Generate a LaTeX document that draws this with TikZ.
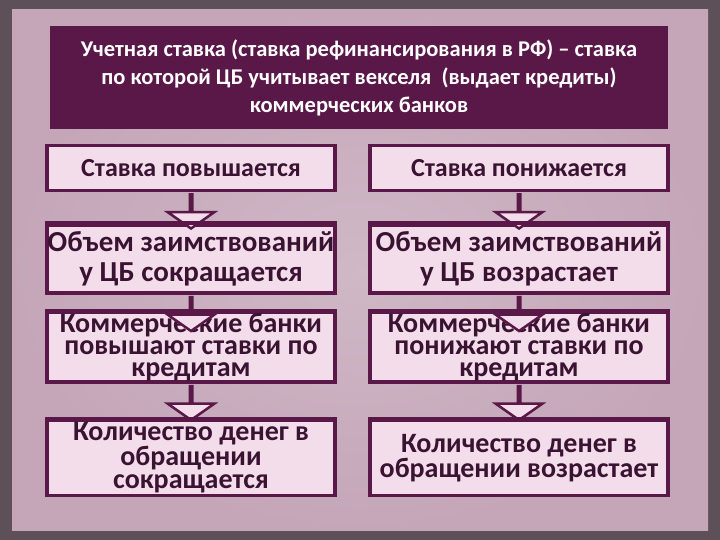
\documentclass[tikz,border=0pt]{standalone}
\usepackage{fontspec}
\setmainfont{Carlito}
\usetikzlibrary{shapes.arrows}
\definecolor{bgc}{HTML}{C4A6B8}
\definecolor{edge}{HTML}{5E5058}
\definecolor{plum}{HTML}{5A1848}
\definecolor{boxf}{HTML}{F3DDEA}
\definecolor{txt}{HTML}{3A1232}
\begin{document}
\begin{tikzpicture}[x=1pt,y=-1pt,
  box/.style={draw=plum,line width=3.5pt,fill=boxf,text=txt,align=center,inner sep=0pt},
  fz/.style={font=\fontsize{26}{29}\selectfont\bfseries},
  fa/.style={font=\fontsize{29}{30}\selectfont\bfseries},
  fb/.style={font=\fontsize{28}{22}\selectfont\bfseries},
  fc/.style={font=\fontsize{28}{23}\selectfont\bfseries},
  darr/.style={single arrow,shape border rotate=270,draw=plum,line width=2.5pt,fill=boxf,minimum width=34pt,single arrow head extend=22pt,single arrow tip angle=110,minimum height=34pt,inner sep=0pt}]
\useasboundingbox (0,0) rectangle (720,540);
\fill[edge] (0,0) rectangle (720,540);
\shade[inner color=bgc!80!white,outer color=bgc] (12,10) rectangle (708,530);
\node[fill=plum,text=white,minimum width=618pt,minimum height=103pt,align=center,font=\fontsize{22.5}{28}\selectfont\bfseries,inner sep=0pt] (top) at (359,78)
 {Учетная ставка (ставка рефинансирования в РФ) – ставка\\по которой ЦБ учитывает векселя\ \ (выдает кредиты)\\коммерческих банков};
\node[box,fz,minimum width=288pt,minimum height=45pt] (l1) at (191,168) {Ставка повышается};
\node[box,fz,minimum width=298pt,minimum height=45pt] (r1) at (519,168) {Ставка понижается};
\node[box,fa,minimum width=288pt,minimum height=68pt] (l2) at (191,259) {Объем заимствований\\у ЦБ сокращается};
\node[box,fa,minimum width=298pt,minimum height=68pt] (r2) at (519,259) {Объем заимствований\\у ЦБ возрастает};
\node[box,fb,minimum width=288pt,minimum height=70pt] (l3) at (191,347) {Коммерческие банки\\повышают ставки по\\кредитам};
\node[box,fb,minimum width=298pt,minimum height=70pt] (r3) at (519,347) {Коммерческие банки\\понижают ставки по\\кредитам};
\node[box,fc,minimum width=288pt,minimum height=75pt] (l4) at (191,458) {Количество денег в\\обращении\\сокращается};
\node[box,fc,minimum width=298pt,minimum height=75pt] (r4) at (519,458) {Количество денег в\\обращении возрастает};
\foreach \a/\b in {l1/l2,r1/r2,l2/l3,r2/r3,l3/l4,r3/r4}
  \node[darr,anchor=north] (arr\a) at ([yshift=-1pt]\a.south) {};
\foreach \a/\b in {l1/l2,r1/r2,l2/l3,r2/r3,l3/l4,r3/r4}
  \draw[plum,line width=3.5pt] (\b.north west) -- (\b.north east);
\end{tikzpicture}
\end{document}
